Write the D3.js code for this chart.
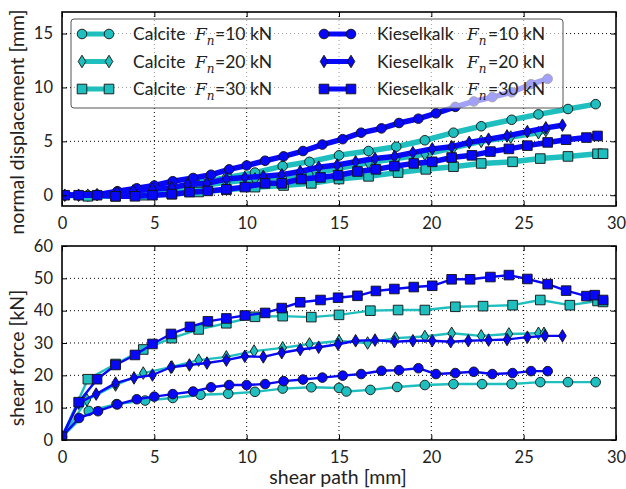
<!DOCTYPE html>
<meta charset="utf-8">
<script src="https://d3js.org/d3.v7.min.js"></script>
<style>
  body { margin: 0; background: #fff; }
  text { font-family: Lato, "Open Sans", sans-serif; fill: #222; }
</style>
<div id="my_dataviz"></div>

<script>

// ---- data: [shear path mm, value] ----
// normal displacement [mm]
var calcite10Disp = [[0,0],[1.4,0],[2.9,0.1],[4.5,0.3],[6.0,0.7],[7.5,1.2],[8.95,1.65],[10.45,2.1],[11.95,2.7],[13.4,3.1],[15.0,3.7],[16.6,4.1],[18.1,4.5],[19.65,5.1],[21.2,5.8],[22.7,6.4],[24.35,7.0],[25.8,7.5],[27.4,8.0],[28.9,8.45]];
var calcite20Disp = [[0,0],[1.4,0],[2.9,0.1],[4.4,0.3],[5.95,0.55],[7.4,0.85],[8.9,1.2],[10.45,1.5],[11.95,1.65],[13.4,1.95],[15.0,2.5],[16.6,3.0],[18.1,3.4],[19.65,3.8],[21.2,4.4],[22.7,5.0],[24.3,5.4],[25.8,5.8],[26.2,6.0]];
var calcite30Disp = [[0,0],[1.4,-0.1],[2.9,-0.1],[4.4,0],[5.95,0.1],[7.4,0.3],[8.9,0.5],[10.45,0.75],[12.0,0.9],[13.5,1.1],[15.0,1.5],[16.6,1.75],[18.2,2.1],[19.7,2.4],[21.2,2.65],[22.7,2.95],[24.4,3.1],[25.9,3.4],[27.4,3.6],[29.0,3.85],[29.3,3.85]];
var kiesel10Disp = [[0.15,0],[0.9,0],[1.9,0.05],[3.0,0.37],[4.05,0.64],[5.0,0.9],[6.0,1.3],[7.1,1.6],[8.07,1.9],[9.05,2.4],[10.0,2.76],[11.0,3.2],[12.0,3.6],[13.05,4.1],[14.1,4.7],[15.2,5.2],[16.2,5.8],[17.3,6.2],[18.25,6.7],[19.3,7.1],[20.25,7.6],[21.3,8.2],[22.3,8.7],[23.3,9.1],[24.35,9.55],[25.4,10.3],[26.3,10.8]];
var kiesel20Disp = [[0.15,0],[0.9,0],[1.9,0.05],[3.0,0.25],[3.85,0.4],[4.9,0.55],[5.95,0.7],[6.8,1.0],[7.85,1.1],[8.9,1.5],[9.9,1.65],[10.9,1.75],[11.9,1.9],[12.9,2.2],[13.9,2.6],[14.9,2.8],[15.9,3.1],[16.95,3.4],[18.0,3.6],[19.0,3.95],[20.05,4.3],[21.1,4.5],[22.05,4.9],[23.1,5.2],[24.1,5.5],[25.2,5.9],[26.2,6.25],[27.1,6.5]];
var kiesel30Disp = [[0.15,0],[0.9,0],[1.9,0],[2.9,-0.1],[3.95,-0.1],[4.9,0],[5.95,0.1],[6.9,0.28],[7.9,0.4],[8.9,0.55],[9.9,0.75],[11.0,1.1],[11.9,1.1],[12.95,1.5],[14.0,1.65],[14.95,1.85],[16.0,2.2],[17.0,2.4],[18.0,2.7],[19.05,2.95],[20.05,3.1],[21.1,3.5],[22.2,3.7],[23.2,4.05],[24.2,4.3],[25.2,4.6],[26.3,4.9],[27.3,5.15],[28.4,5.35],[29.0,5.5]];

// shear force [kN]
var calcite10Force = [[0,1],[1.45,9.0],[2.95,11.1],[4.5,12.2],[6.0,13.0],[7.5,14.0],[9.0,14.3],[10.45,14.9],[11.95,15.9],[13.5,16.3],[15.0,16.1],[15.4,15.0],[16.7,15.5],[18.15,16.4],[19.65,17.0],[21.2,17.3],[22.75,17.3],[24.35,17.3],[25.9,17.9],[27.4,17.9],[28.9,17.9]];
var calcite20Force = [[0,1],[1.35,12.4],[2.9,17.0],[4.4,20.7],[5.95,22.6],[7.4,24.7],[8.9,25.7],[10.4,27.5],[11.95,28.5],[13.4,29.7],[15.0,30.6],[16.55,30.0],[18.05,31.5],[19.65,32.0],[21.1,33.0],[22.7,32.2],[24.2,32.8],[25.8,33.0],[26.1,33.0]];
var calcite30Force = [[0,1],[1.4,18.8],[2.9,23.5],[4.4,28.0],[5.95,31.5],[7.4,34.2],[8.9,36.1],[10.45,38.1],[11.95,38.3],[13.5,38.0],[15.0,38.7],[16.7,40.0],[18.2,40.2],[19.65,40.2],[21.3,41.2],[22.8,41.4],[24.4,41.7],[25.9,43.3],[27.5,41.7],[29.0,43.0],[29.3,42.7]];
var kiesel10Force = [[0,1],[0.92,6.8],[1.95,8.9],[3.0,11.0],[4.05,12.6],[5.0,13.4],[6.0,14.2],[7.1,15.0],[8.07,16.3],[9.05,17.0],[10.0,17.0],[11.0,17.3],[12.0,18.2],[13.05,18.7],[14.1,19.3],[15.2,19.9],[16.2,20.4],[17.3,21.4],[18.25,21.6],[19.3,22.2],[20.25,20.4],[21.3,20.7],[22.3,21.1],[23.3,20.4],[24.4,20.7],[25.4,21.3],[26.3,21.3]];
var kiesel20Force = [[0,1],[0.9,11.4],[1.85,14.2],[2.9,17.6],[3.9,19.2],[4.9,20.1],[5.9,22.5],[6.9,23.2],[7.85,23.8],[8.9,24.7],[9.9,25.9],[10.9,25.7],[11.9,27.0],[12.9,28.0],[13.9,28.7],[14.95,29.6],[15.9,30.7],[16.95,30.9],[18.0,30.4],[19.0,30.7],[20.05,30.7],[21.05,30.4],[22.0,30.7],[23.1,30.9],[24.1,31.1],[25.2,31.8],[26.15,32.2],[27.1,32.2]];
var kiesel30Force = [[0,1],[0.9,11.7],[1.9,18.8],[2.9,23.2],[3.95,26.3],[4.9,29.7],[5.9,32.8],[6.93,35.0],[7.9,36.7],[8.9,37.6],[9.9,38.5],[11.0,39.3],[11.9,40.8],[12.9,42.6],[14.0,43.3],[14.95,44.0],[16.0,44.6],[17.0,46.1],[18.0,46.7],[19.05,47.3],[20.05,47.7],[21.1,49.7],[22.1,49.7],[23.2,50.4],[24.2,51.0],[25.2,49.8],[26.3,48.2],[27.3,46.2],[28.4,44.5],[28.85,44.8],[29.3,43.3]];

var rocks = ["Calcite", "Kieselkalk"];
var loads = ["10", "20", "30"];
var xTicks = [0, 5, 10, 15, 20, 25, 30];
var dispTicks = [0, 5, 10, 15];
var forceTicks = [0, 10, 20, 30, 40, 50, 60];

var series = [
  {rock: 0, load: 0, disp: calcite10Disp, force: calcite10Force, shape: "circle"},
  {rock: 0, load: 1, disp: calcite20Disp, force: calcite20Force, shape: "diamond"},
  {rock: 0, load: 2, disp: calcite30Disp, force: calcite30Force, shape: "square"},
  {rock: 1, load: 0, disp: kiesel10Disp, force: kiesel10Force, shape: "circle"},
  {rock: 1, load: 1, disp: kiesel20Disp, force: kiesel20Force, shape: "diamond"},
  {rock: 1, load: 2, disp: kiesel30Disp, force: kiesel30Force, shape: "square"}
];
var colors = ["#1fbfbf", "#0808f8"];

// ---- layout ----
var left = 62, width = 554, panelH = 194;
var topY = 12, botY = 246;

var svg = d3.select("#my_dataviz")
  .append("svg")
    .attr("width", 626)
    .attr("height", 489);

var x = d3.scaleLinear().domain([0, 30]).range([0, width]);
var yDisp = d3.scaleLinear().domain([-1, 17]).range([panelH, 0]);
var yForce = d3.scaleLinear().domain([0, 60]).range([panelH, 0]);

function markerPath(shape) {
  if (shape == "circle") return "M4.8,0A4.8,4.8 0 1,1 -4.8,0A4.8,4.8 0 1,1 4.8,0Z";
  if (shape == "square") return "M-4.8,-4.8H4.8V4.8H-4.8Z";
  return "M0,-6.3L3.8,0L0,6.3L-3.8,0Z";
}

function panel(gy, y, yTicks, key, lineW) {
  var g = svg.append("g").attr("transform", "translate(" + left + "," + gy + ")");

  g.append("defs").append("clipPath").attr("id", "clip" + key)
    .append("rect").attr("width", width).attr("height", panelH);

  // dotted grid
  g.selectAll(".gx").data(xTicks.slice(1, -1)).enter().append("line")
    .attr("x1", x).attr("x2", x).attr("y1", 0).attr("y2", panelH)
    .attr("stroke", "#000").attr("stroke-width", 1).attr("stroke-dasharray", "1,3");
  g.selectAll(".gy").data(yTicks.filter(function(t) { return y(t) > 1 && y(t) < panelH - 1; })).enter().append("line")
    .attr("y1", y).attr("y2", y).attr("x1", 0).attr("x2", width)
    .attr("stroke", "#000").attr("stroke-width", 1).attr("stroke-dasharray", "1,3");

  var plot = g.append("g").attr("clip-path", "url(#clip" + key + ")");
  var line = d3.line().x(function(d) { return x(d[0]); }).y(function(d) { return y(d[1]); });

  series.forEach(function(s) {
    var pts = s[key];
    plot.append("path").datum(pts)
      .attr("d", line)
      .attr("fill", "none")
      .attr("stroke", colors[s.rock])
      .attr("stroke-width", lineW)
      .attr("stroke-linejoin", "round")
      .attr("stroke-linecap", "butt");
    plot.selectAll(null).data(pts.slice(s.rock == 0 ? 1 : 0)).enter().append("path")
      .attr("d", markerPath(s.shape))
      .attr("transform", function(d) { return "translate(" + x(d[0]) + "," + y(d[1]) + ")"; })
      .attr("fill", colors[s.rock])
      .attr("stroke", "#111")
      .attr("stroke-width", 0.9);
  });

  // axes, ticks inward on all sides
  g.append("g").attr("transform", "translate(0," + panelH + ")")
    .call(d3.axisBottom(x).tickValues(xTicks).tickSizeInner(-5).tickSizeOuter(0).tickPadding(11));
  g.append("g")
    .call(d3.axisTop(x).tickValues(xTicks).tickSizeInner(-5).tickSizeOuter(0).tickFormat(""));
  g.append("g")
    .call(d3.axisLeft(y).tickValues(yTicks).tickSizeInner(-5).tickSizeOuter(0).tickPadding(9));
  g.append("g").attr("transform", "translate(" + width + ",0)")
    .call(d3.axisRight(y).tickValues(yTicks).tickSizeInner(-5).tickSizeOuter(0).tickFormat(""));
  g.selectAll(".domain").remove();
  g.selectAll(".tick line").attr("stroke", "#000");
  g.selectAll(".tick text").style("font-size", "16.5px").attr("fill", "#222");

  g.append("rect").attr("width", width).attr("height", panelH)
    .attr("fill", "none").attr("stroke", "#000").attr("stroke-width", 1.6);
  return g;
}

var gTop = panel(topY, yDisp, dispTicks, "disp", 5.5);
var gBot = panel(botY, yForce, forceTicks, "force", 2.4);

// axis labels
svg.append("text").attr("transform", "translate(24,122)rotate(-90)")
  .attr("text-anchor", "middle").style("font-size", "19.5px").text("normal displacement [mm]");
svg.append("text").attr("transform", "translate(24,358)rotate(-90)")
  .attr("text-anchor", "middle").style("font-size", "19.5px").text("shear force [kN]");
svg.append("text").attr("x", 338).attr("y", 484)
  .attr("text-anchor", "middle").style("font-size", "19.5px").text("shear path [mm]");

// legend (semi-transparent, drawn over the top panel)
var leg = svg.append("g");
leg.append("rect").attr("x", 71).attr("y", 19).attr("width", 492).attr("height", 89).attr("rx", 3)
  .attr("fill", "#fff").attr("fill-opacity", 0.62).attr("stroke", "#555").attr("stroke-width", 1);

var colX = [[82, 109, 133, 195, 215], [324, 351, 377, 467, 488]];
series.forEach(function(s) {
  var c = colX[s.rock], ly = 34 + s.load * 27.5;
  leg.append("line").attr("x1", c[0]).attr("x2", c[1]).attr("y1", ly).attr("y2", ly)
    .attr("stroke", colors[s.rock]).attr("stroke-width", 5);
  [c[0], c[1]].forEach(function(mx) {
    leg.append("path").attr("d", markerPath(s.shape)).attr("transform", "translate(" + mx + "," + ly + ")")
      .attr("fill", colors[s.rock]).attr("stroke", "#111").attr("stroke-width", 0.9);
  });
  leg.append("text").attr("x", c[2]).attr("y", ly + 6).style("font-size", "17.5px").text(rocks[s.rock]);
  var f = leg.append("text").attr("x", c[3]).attr("y", ly + 6)
    .style("font-family", "'DejaVu Serif', serif").style("font-style", "italic").style("font-size", "17px");
  f.append("tspan").text("F");
  f.append("tspan").attr("dy", 5).style("font-size", "12px").text("n");
  leg.append("text").attr("x", c[4]).attr("y", ly + 6).style("font-size", "17.5px").text("=" + loads[s.load] + " kN");
});

</script>
